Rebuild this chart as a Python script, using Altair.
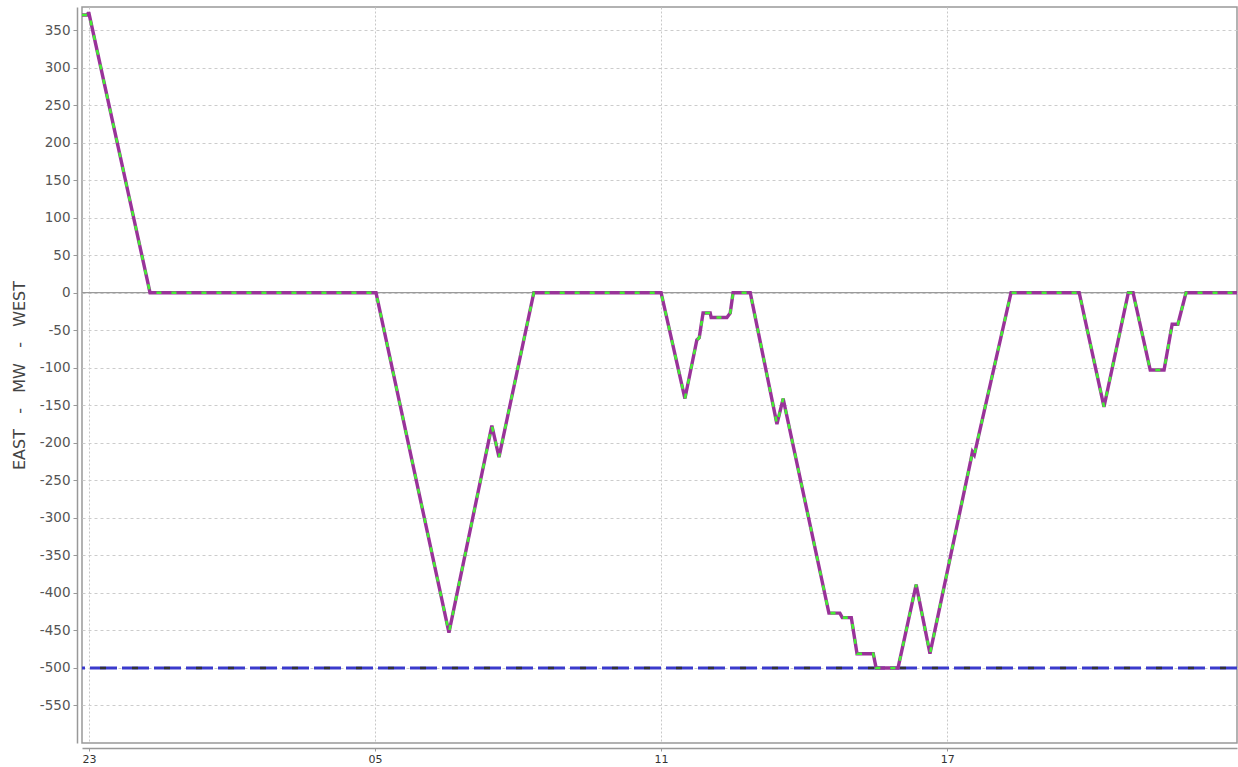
import altair as alt
import pandas as pd

# hours after 23:00 of the first day
hours = [-0.147, -0.042, -0.021, 0.0, 1.28, 6.02, 7.55, 8.45, 8.60, 9.33,
         12.0, 12.50, 12.75, 12.80, 12.88, 13.03, 13.05, 13.38, 13.45, 13.51,
         13.87, 14.43, 14.56, 15.52, 15.75, 15.80, 15.99, 16.11, 16.45, 16.51,
         16.97, 17.35, 17.64, 18.50, 18.53, 18.57, 19.34, 20.77, 21.29, 21.80,
         21.90, 22.26, 22.55, 22.72, 22.84, 23.01, 24.08]
mw = [370, 370, 372, 372, 0, 0, -453, -177, -219, 0,
      0, -141, -63, -60, -27, -27, -33, -33, -27, 0,
      0, -175, -141, -427, -427, -433, -433, -481, -481, -500,
      -500, -389, -481, -222, -212, -216, 0, 0, -152, 0,
      0, -103, -103, -42, -42, 0, 0]

limit_value = [-500]
zero_value = [0]
x_tick_values = [0, 6, 12, 18]
x_tick_labels = ["23", "05", "11", "17"]
y_tick_values = [350, 300, 250, 200, 150, 100, 50, 0, -50, -100, -150, -200,
                 -250, -300, -350, -400, -450, -500, -550]
NB = "\u00a0"
y_title = f"EAST{NB*3}-{NB*3}MW{NB*3}-{NB*3}WEST"

df = pd.DataFrame({"h": hours, "mw": mw})
lim = pd.DataFrame({"mw": limit_value})
zer = pd.DataFrame({"mw": zero_value})

xscale = alt.Scale(domain=[-0.147, 24.08], nice=False, zero=False)
yscale = alt.Scale(domain=[-600, 380.7], nice=False, zero=False)

label_expr = " : ".join(
    f"datum.value == {v} ? '{l}'" for v, l in zip(x_tick_values, x_tick_labels)
) + " : ''"

FONT = "DejaVu Sans"

xaxis = alt.Axis(
    values=x_tick_values, labelExpr=label_expr, title=None,
    grid=True, gridColor="#c8c8c8", gridDash=[2, 2], gridWidth=1,
    domainColor="#999999", domainWidth=1.5, offset=5,
    tickColor="#999999", tickSize=3, labelPadding=2,
    labelFont=FONT, labelFontSize=11, labelColor="#333333",
    labelBaseline="top",
)
yaxis = alt.Axis(
    values=y_tick_values, title=y_title,
    labelExpr="(datum.value < 0 ? '-' : '') + abs(datum.value)",
    grid=True, gridColor="#cccccc", gridDash=[3, 3], gridWidth=1,
    domainColor="#999999", domainWidth=1.5, offset=5,
    tickColor="#999999", tickSize=4, labelPadding=3,
    labelFont=FONT, labelFontSize=13.5, labelColor="#555555",
    titleFont=FONT, titleFontSize=16, titleColor="#444444",
    titleFontWeight="normal", titlePadding=12,
)

X = alt.X("h:Q", scale=xscale)
Y = alt.Y("mw:Q", scale=yscale)

grid_layer = alt.Chart(df).mark_point(opacity=0).encode(
    x=alt.X("h:Q", scale=xscale, axis=xaxis),
    y=alt.Y("mw:Q", scale=yscale, axis=yaxis),
)

zero_rule = alt.Chart(zer).mark_rule(color="#999999", strokeWidth=1.2).encode(y=Y)

limit_blue = alt.Chart(lim).mark_rule(
    color="#3a3acc", strokeWidth=3, strokeDash=[27, 5]
).encode(y=Y)
limit_black = alt.Chart(lim).mark_rule(
    color="#333333", strokeWidth=2.5, strokeDash=[6, 26], strokeDashOffset=-11
).encode(y=Y)

purple = alt.Chart(df).mark_line(
    color="#993399", strokeWidth=3.4, clip=True
).encode(x=X, y=Y, order="h:Q")
green = alt.Chart(df).mark_line(
    color="#44ee33", strokeWidth=2.6, strokeDash=[5, 10], clip=True
).encode(x=X, y=Y, order="h:Q")

chart = alt.layer(
    grid_layer, zero_rule, limit_blue, limit_black, purple, green
).properties(
    width=1155, height=736,
    autosize=alt.AutoSizeParams(type="none"),
    padding={"left": 82, "top": 7, "right": 1, "bottom": 24},
    background="white",
).configure_view(stroke="#999999", strokeWidth=1.5)

chart.save("out.html", embed_options={"renderer": "svg", "actions": False})
